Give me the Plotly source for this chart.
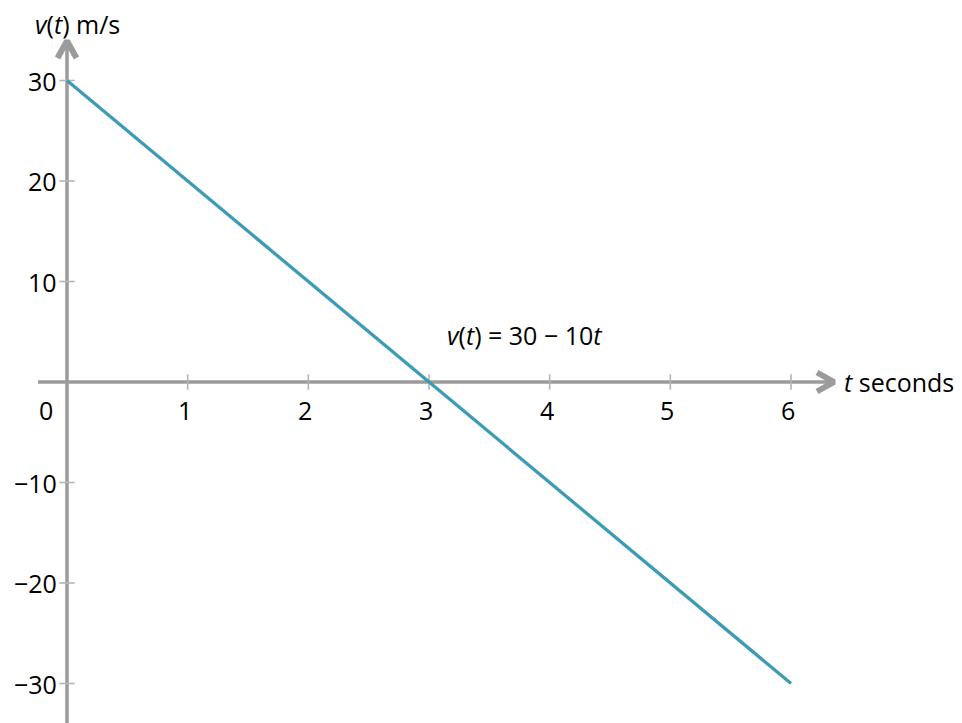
import plotly.graph_objects as go

# data
t_values = [0, 1, 2, 3, 4, 5, 6]
v_values = [30, 20, 10, 0, -10, -20, -30]
x_ticks = [1, 2, 3, 4, 5, 6]
y_ticks = [30, 20, 10, -10, -20, -30]
x_tick_labels = ["1", "2", "3", "4", "5", "6"]
y_tick_labels = ["30", "20", "10", "\u221210", "\u221220", "\u221230"]

W, H = 962, 723
OFF = 8  # page body margin
# pixel mapping: t=0 at px 67, 1 unit = 120.67 px; v=0 at py 382, 10 units = 100.5 px
sx = 120.67
sy = 10.05
x0 = 67 - OFF
y0 = 382 - OFF
x_range = [(0 - x0) / sx, (W - x0) / sx]
y_range = [(y0 - H) / sy, y0 / sy]

AX = "#9b9b9b"
TICK = "#b4b4b4"
LINE = "#3d9bb6"
FONT = "Open Sans"
FS = 25

fig = go.Figure()

# axes lines
fig.add_trace(go.Scatter(x=[0, 0], y=[y_range[0] - 1, (382 - 42) / sy], mode="lines",
                         line=dict(color=AX, width=3.5), hoverinfo="skip"))
fig.add_trace(go.Scatter(x=[-29 / sx, 6.36], y=[0, 0], mode="lines",
                         line=dict(color=AX, width=3.5), hoverinfo="skip"))
# arrow heads (chevrons)
ytip = (382 - 41) / sy
fig.add_trace(go.Scatter(x=[-9.5 / sx, 0, 9.5 / sx], y=[ytip - 17 / sy, ytip, ytip - 17 / sy], mode="lines",
                         line=dict(color=AX, width=6), hoverinfo="skip"))
xtip = (834 - 67) / sx
fig.add_trace(go.Scatter(x=[xtip - 17 / sx, xtip, xtip - 17 / sx], y=[9.5 / sy, 0, -9.5 / sy], mode="lines",
                         line=dict(color=AX, width=6), hoverinfo="skip"))

# tick marks
fig.add_trace(go.Scatter(x=x_ticks, y=[0] * len(x_ticks), mode="markers",
                         marker=dict(symbol="line-ns", size=11, line=dict(color=TICK, width=1.6)),
                         hoverinfo="skip"))
fig.add_trace(go.Scatter(x=[0] * len(y_ticks), y=y_ticks, mode="markers",
                         marker=dict(symbol="line-ew", size=11, line=dict(color=TICK, width=1.6)),
                         hoverinfo="skip"))

# the function line
fig.add_trace(go.Scatter(x=t_values, y=v_values, mode="lines",
                         line=dict(color=LINE, width=3.3), hoverinfo="skip"))

font = dict(size=FS, color="black", family=FONT)
ann = []
for xv, lab in zip(x_ticks, x_tick_labels):
    ann.append(dict(x=xv, y=0, xref="x", yref="y", text=lab, showarrow=False,
                    xshift=-3, yshift=-28, font=font))
for yv, lab in zip(y_ticks, y_tick_labels):
    ann.append(dict(x=0, y=yv, xref="x", yref="y", text=lab, showarrow=False,
                    xanchor="right", xshift=-8, yshift=0, font=font))
ann.append(dict(x=0, y=0, xref="x", yref="y", text="0", showarrow=False,
                xanchor="right", xshift=-12, yshift=-28, font=font))
ann.append(dict(x=0, y=1, xref="x", yref="paper", text="<i>v</i>(<i>t</i>) m/s", showarrow=False,
                xanchor="left", xshift=-33, yanchor="top", yshift=2, borderpad=0, font=font))
ann.append(dict(x=xtip, y=0, xref="x", yref="y", text="<i>t</i> seconds", showarrow=False,
                xanchor="left", xshift=8, font=font))
ann.append(dict(x=3, y=0, xref="x", yref="y", text="<i>v</i>(<i>t</i>) = 30 \u2212 10<i>t</i>", showarrow=False,
                xanchor="left", xshift=16, yshift=47, font=font))

fig.update_layout(
    width=W, height=H, margin=dict(l=0, r=0, t=0, b=0),
    paper_bgcolor="white", plot_bgcolor="white", showlegend=False,
    xaxis=dict(range=x_range, visible=False, fixedrange=True),
    yaxis=dict(range=y_range, visible=False, fixedrange=True),
    annotations=ann,
)

fig.write_html("out.html")
